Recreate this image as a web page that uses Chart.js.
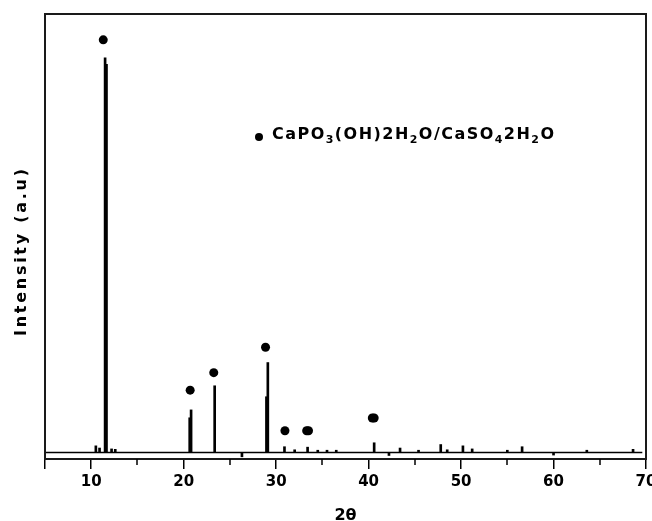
<!DOCTYPE html>
<html>
<head>
<meta charset="utf-8">
<script src="https://cdn.jsdelivr.net/npm/chart.js@4/dist/chart.umd.min.js"></script>
<style>
  html, body { margin: 0; padding: 0; background: #fff; }
  #wrap { width: 652px; height: 521px; }
</style>
</head>
<body>
<div id="wrap"><canvas id="xrd" width="652" height="521"></canvas></div>
<script>
// 反射位置 (2θ) 与强度 (a.u.)，负值为基线下的小凹陷
const peakPos = [10.5, 10.9, 11.5, 11.65, 12.2, 12.6, 20.65, 20.8, 23.35, 26.3, 28.95, 29.1,
  30.9, 32.0, 33.4, 34.5, 35.5, 36.5, 40.6, 42.2, 43.4, 45.4, 47.8, 48.5, 50.2, 51.2,
  55.0, 56.6, 60.0, 63.6, 68.6];
const peakInt = [1.5, 1.0, 90.0, 88.5, 0.8, 0.7, 7.9, 9.7, 15.2, -1.0, 12.7, 20.5,
  1.3, 0.6, 1.2, 0.5, 0.5, 0.5, 2.2, -0.7, 1.0, 0.5, 1.8, 0.6, 1.5, 0.8,
  0.5, 1.3, -0.6, 0.5, 0.7];

// 物相标记 (●)
const markerPos = [11.3, 20.7, 23.25, 28.85, 30.95, 33.3, 33.5, 40.4, 40.6];
const markerInt = [94.1, 14.2, 18.2, 24.0, 4.95, 4.95, 4.95, 7.85, 7.85];

// 基线范围
const baseX = [5, 69.6];

// 坐标轴
const xMin = 5, xMax = 70;
const yMin = -1.5, yMax = 100;
const majorTicks = [10, 20, 30, 40, 50, 60, 70];
const minorTicks = [15, 25, 35, 45, 55, 65];

const xTitle = '2θ';
const yTitle = 'Intensity (a.u)';
// 图例文本：[文字, 是否下标]
const legendParts = [['CaPO', 0], ['3', 1], ['(OH)2H', 0], ['2', 1], ['O/CaSO', 0],
  ['4', 1], ['2H', 0], ['2', 1], ['O', 0]];

const FONT = '"DejaVu Sans", sans-serif';

/**
 * 按目标宽度均匀加字距绘制文本
 */
function drawSpaced(ctx, parts, x, y, targetWidth, mainSize, subSize, subDrop) {
  const glyphs = [];
  parts.forEach(([txt, sub]) => {
    for (const ch of txt) glyphs.push({ ch, sub });
  });
  let natural = 0;
  glyphs.forEach(g => {
    ctx.font = `bold ${g.sub ? subSize : mainSize}px ${FONT}`;
    g.w = ctx.measureText(g.ch).width;
    natural += g.w;
  });
  const gap = glyphs.length > 1 ? (targetWidth - natural) / (glyphs.length - 1) : 0;
  let cx = x;
  glyphs.forEach(g => {
    ctx.font = `bold ${g.sub ? subSize : mainSize}px ${FONT}`;
    ctx.fillText(g.ch, cx, g.sub ? y + subDrop : y);
    cx += g.w + gap;
  });
}

const decorPlugin = {
  id: 'decor',
  beforeDraw(chart) {
    const ctx = chart.ctx;
    ctx.save();
    ctx.fillStyle = '#fff';
    ctx.fillRect(0, 0, chart.width, chart.height);
    ctx.restore();
  },
  afterDraw(chart) {
    const ctx = chart.ctx;
    const area = chart.chartArea;
    const xs = chart.scales.x;
    ctx.save();

    // 外框
    ctx.strokeStyle = '#1a1a1a';
    ctx.lineWidth = 2;
    ctx.strokeRect(area.left, area.top, area.right - area.left, area.bottom - area.top);

    // 次刻度
    ctx.strokeStyle = '#000';
    ctx.lineWidth = 1.5;
    minorTicks.forEach(v => {
      const px = Math.round(xs.getPixelForValue(v));
      ctx.beginPath();
      ctx.moveTo(px, area.bottom);
      ctx.lineTo(px, area.bottom + 6);
      ctx.stroke();
    });

    ctx.fillStyle = '#000';
    ctx.textBaseline = 'alphabetic';
    ctx.textAlign = 'left';

    // 图例
    ctx.beginPath();
    ctx.arc(area.left + 214, area.top + 123, 4, 0, Math.PI * 2);
    ctx.fill();
    drawSpaced(ctx, legendParts, area.left + 227, area.top + 125, 282, 16, 11, 4);

    // x 轴标题
    ctx.font = `bold 16px ${FONT}`;
    ctx.textAlign = 'center';
    ctx.fillText(xTitle, (area.left + area.right) / 2, 520);

    // y 轴标题
    ctx.translate(26, 253);
    ctx.rotate(-Math.PI / 2);
    ctx.textAlign = 'left';
    drawSpaced(ctx, [[yTitle, 0]], -83, 0, 167, 16, 16, 0);

    ctx.restore();
  }
};

const chart = new Chart(document.getElementById('xrd'), {
  type: 'bar',
  data: {
    datasets: [
      {
        type: 'line',
        label: 'baseline',
        data: baseX.map(x => ({ x, y: 0 })),
        borderColor: '#000',
        borderWidth: 1.5,
        pointRadius: 0,
        order: 3
      },
      {
        type: 'bar',
        label: 'peaks',
        data: peakPos.map((x, i) => ({ x, y: peakInt[i] })),
        backgroundColor: '#000',
        borderWidth: 0,
        barThickness: 2,
        order: 2
      },
      {
        type: 'line',
        label: 'markers',
        data: markerPos.map((x, i) => ({ x, y: markerInt[i] })),
        showLine: false,
        pointRadius: 4.5,
        pointBackgroundColor: '#000',
        pointBorderWidth: 0,
        order: 1
      }
    ]
  },
  options: {
    responsive: false,
    animation: false,
    events: [],
    layout: { padding: { top: 14, right: 6, left: 0, bottom: 0 } },
    plugins: {
      legend: { display: false },
      tooltip: { enabled: false }
    },
    scales: {
      x: {
        type: 'linear',
        min: xMin,
        max: xMax,
        offset: false,
        afterBuildTicks: (scale) => {
          scale.ticks = [xMin, ...majorTicks].map(v => ({ value: v }));
        },
        afterFit: (scale) => {
          scale.height = 62;
          scale.paddingLeft = 0;
          scale.paddingRight = 0;
        },
        grid: {
          offset: false,
          drawOnChartArea: false,
          drawTicks: true,
          tickLength: 10,
          color: '#000',
          lineWidth: 1.5
        },
        border: { display: true, color: '#000', width: 2 },
        ticks: {
          autoSkip: false,
          maxRotation: 0,
          padding: 4,
          color: '#000',
          font: { family: FONT, size: 15, weight: 'bold' },
          callback: (v) => (majorTicks.includes(v) ? String(v) : '')
        }
      },
      y: {
        type: 'linear',
        min: yMin,
        max: yMax,
        stacked: false,
        afterFit: (scale) => { scale.width = 45; },
        grid: { display: false },
        border: { display: true, color: '#000', width: 2 },
        ticks: { display: false }
      }
    }
  },
  plugins: [decorPlugin]
});
</script>
</body>
</html>
